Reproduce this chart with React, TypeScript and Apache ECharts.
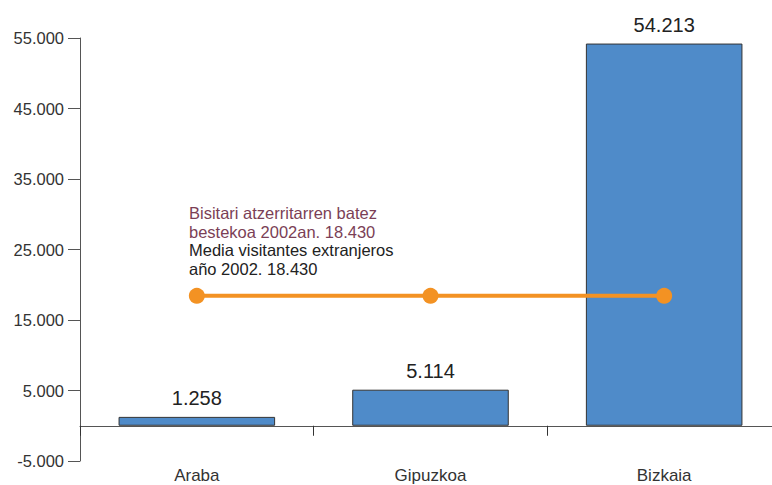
import React, { useEffect, useRef } from "react";
import * as echarts from "echarts";

const categories = ["Araba", "Gipuzkoa", "Bizkaia"];
const visitors = [1258, 5114, 54213];
const average = [18430, 18430, 18430];
const annotationEu = ["Bisitari atzerritarren batez", "bestekoa 2002an. 18.430"];
const annotationEs = ["Media visitantes extranjeros", "año 2002. 18.430"];

const fmt = (v: number) => {
  const s = Math.abs(v).toString().replace(/\B(?=(\d{3})+(?!\d))/g, ".");
  return (v < 0 ? "-" : "") + s;
};

const FONT = "'Liberation Sans', Arial, sans-serif";

export default function App() {
  const ref = useRef<HTMLDivElement>(null);
  useEffect(() => {
    document.body.style.margin = "0";
    if (!ref.current) return;
    const chart = echarts.init(ref.current, undefined, { renderer: "svg" });
    chart.setOption({
      animation: false,
      backgroundColor: "#ffffff",
      grid: {
        left: 80,
        right: -9,
        top: 38,
        bottom: 24,
        containLabel: false,
        outerBoundsMode: "none",
      },
      xAxis: [
        {
          type: "category",
          data: categories,
          boundaryGap: true,
          axisLine: { show: true, onZero: true, lineStyle: { color: "#555", width: 1 } },
          axisTick: { show: true, length: 10, lineStyle: { color: "#333" } },
          axisLabel: { show: false },
          splitLine: { show: false },
        },
        {
          type: "category",
          data: categories,
          position: "bottom",
          boundaryGap: true,
          axisLine: { show: false, onZero: false },
          axisTick: { show: false },
          axisLabel: { margin: 6, fontSize: 17, lineHeight: 17, color: "#333", fontFamily: FONT },
          splitLine: { show: false },
        },
      ],
      yAxis: {
        type: "value",
        min: -5000,
        max: 55000,
        interval: 10000,
        axisLine: { show: true, lineStyle: { color: "#555", width: 1 } },
        axisTick: { show: true, length: 12, lineStyle: { color: "#555" } },
        axisLabel: {
          margin: 16,
          fontSize: 16.5,
          color: "#333",
          fontFamily: FONT,
          formatter: (v: number) => fmt(v),
        },
        splitLine: { show: false },
      },
      series: [
        {
          type: "bar",
          data: visitors,
          xAxisIndex: 0,
          barCategoryGap: "33%",
          itemStyle: { color: "#4f8bc9", borderColor: "#333", borderWidth: 1 },
          label: {
            show: true,
            position: "top",
            distance: 9,
            fontSize: 20,
            color: "#222",
            fontFamily: FONT,
            formatter: (p: any) => fmt(p.value),
          },
          z: 2,
        },
        {
          type: "line",
          data: average,
          xAxisIndex: 0,
          symbol: "circle",
          symbolSize: 16,
          itemStyle: { color: "#f39223" },
          lineStyle: { color: "#f39223", width: 4 },
          z: 3,
        },
      ],
      graphic: [
        {
          type: "text",
          left: 189,
          top: 204,
          style: {
            text: annotationEu.join("\n"),
            fill: "#7b3f56",
            fontSize: 16.5,
            lineHeight: 18.5,
            fontFamily: FONT,
          },
        },
        {
          type: "text",
          left: 189,
          top: 241,
          style: {
            text: annotationEs.join("\n"),
            fill: "#222",
            fontSize: 16.5,
            lineHeight: 18.5,
            fontFamily: FONT,
          },
        },
      ],
    });
    return () => chart.dispose();
  }, []);
  return <div ref={ref} style={{ width: 772, height: 485 }} />;
}
